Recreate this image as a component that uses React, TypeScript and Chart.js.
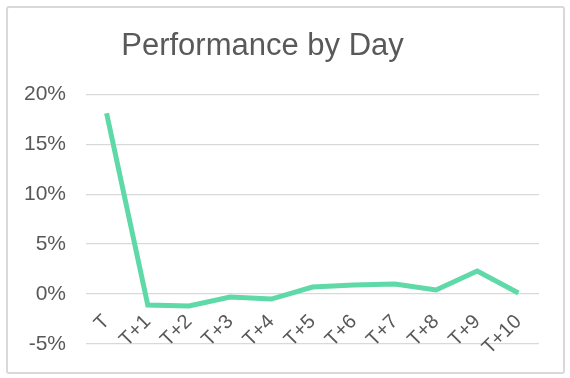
import React, { useEffect, useRef } from "react";
import { Chart, registerables } from "chart.js";

Chart.register(...registerables);

const categories = ["T", "T+1", "T+2", "T+3", "T+4", "T+5", "T+6", "T+7", "T+8", "T+9", "T+10"];
const performance = [18.1, -1.1, -1.2, -0.3, -0.5, 0.7, 0.9, 1.0, 0.4, 2.3, 0.1];
const yTicks = [-5, 0, 5, 10, 15, 20];
const titleText = "Performance by Day";

export default function App() {
  const ref = useRef<HTMLCanvasElement | null>(null);

  useEffect(() => {
    if (!ref.current) return;
    const font = "'Liberation Sans', Arial, sans-serif";
    const chart = new Chart(ref.current, {
      type: "line",
      data: {
        labels: categories,
        datasets: [
          {
            data: performance,
            borderColor: "#5fd9a7",
            backgroundColor: "#5fd9a7",
            borderWidth: 5,
            pointRadius: 0,
            tension: 0,
          },
        ],
      },
      options: {
        animation: false,
        responsive: false,
        layout: { padding: { top: 0, left: 0, right: 31, bottom: 34 } },
        plugins: {
          legend: { display: false },
          tooltip: { enabled: false },
          title: {
            display: true,
            text: titleText,
            color: "#595959",
            font: { family: font, size: 31, weight: "normal" },
            padding: { top: 28, bottom: 29 },
          },
        },
        scales: {
          x: {
            position: { y: 0 } as any,
            offset: true,
            grid: { display: false, drawTicks: false },
            border: { display: false },
            ticks: {
              color: "#595959",
              font: { family: font, size: 20 },
              minRotation: 45,
              maxRotation: 45,
              autoSkip: false,
              padding: 16,
            },
            afterFit: (scale: any) => {
              scale.height = 0;
              scale.paddingLeft = 0;
              scale.paddingRight = 0;
            },
          },
          y: {
            min: -5,
            max: 20,
            afterBuildTicks: (scale: any) => {
              scale.ticks = yTicks.map((v) => ({ value: v }));
            },
            grid: { color: "#d9d9d9", lineWidth: 1.2, drawTicks: false },
            border: { display: false },
            ticks: {
              color: "#595959",
              font: { family: font, size: 21 },
              padding: 20,
              callback: (v: any) => v + "%",
            },
            afterFit: (scale: any) => {
              scale.width = 100;
            },
          },
        },
      },
    });
    return () => chart.destroy();
  }, []);

  return (
    <div style={{ position: "absolute", left: 0, top: 0, width: 570, height: 378, background: "#fff", overflow: "hidden" }}>
      <div
        style={{
          position: "absolute",
          left: 6,
          top: 6,
          width: 559,
          height: 368,
          boxSizing: "border-box",
          border: "2px solid #d9d9d9",
          borderRadius: 3,
        }}
      />
      <canvas ref={ref} width={584} height={378} style={{ position: "absolute", left: -14, top: 0 }} />
    </div>
  );
}
